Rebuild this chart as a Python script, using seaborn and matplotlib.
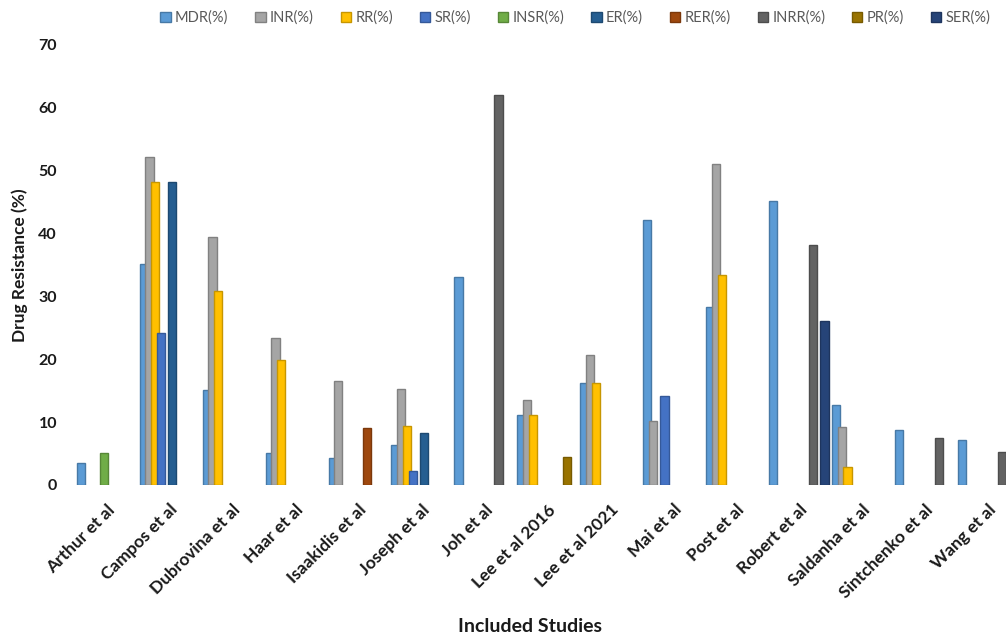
import numpy as np
import pandas as pd
import matplotlib
matplotlib.use("Agg")
import matplotlib.pyplot as plt
import matplotlib.colors as mcolors
from matplotlib.patches import Patch
import seaborn as sns

nan = np.nan

studies = ["Arthur et al", "Campos et al", "Dubrovina et al", "Haar et al",
           "Isaakidis et al", "Joseph et al", "Joh et al", "Lee et al 2016",
           "Lee et al 2021", "Mai et al", "Post et al", "Robert et al",
           "Saldanha et al", "Sintchenko et al", "Wang et al"]

series_names = ["MDR(%)", "INR(%)", "RR(%)", "SR(%)", "INSR(%)",
                "ER(%)", "RER(%)", "INRR(%)", "PR(%)", "SER(%)"]

mdr  = [3.5, 35.2, 15.1, 5.1, 4.3, 6.3, 33.0, 11.2, 16.2, 42.1, 28.3, 45.2, 12.7, 8.7, 7.2]
inr  = [nan, 52.1, 39.5, 23.3, 16.5, 15.2, nan, 13.5, 20.7, 10.2, 51.1, nan, 9.2, nan, nan]
rr   = [nan, 48.1, 30.8, 19.9, nan, 9.3, nan, 11.2, 16.2, nan, 33.4, nan, 2.8, nan, nan]
sr   = [nan, 24.1, nan, nan, nan, 2.3, nan, nan, nan, 14.2, nan, nan, nan, nan, nan]
insr = [5.1, nan, nan, nan, nan, nan, nan, nan, nan, nan, nan, nan, nan, nan, nan]
er   = [nan, 48.1, nan, nan, nan, 8.3, nan, nan, nan, nan, nan, nan, nan, nan, nan]
rer  = [nan, nan, nan, nan, 9.0, nan, nan, nan, nan, nan, nan, nan, nan, nan, nan]
inrr = [nan, nan, nan, nan, nan, nan, 62.0, nan, nan, nan, nan, 38.2, nan, 7.5, 5.2]
pr   = [nan, nan, nan, nan, nan, nan, nan, 4.5, nan, nan, nan, nan, nan, nan, nan]
ser  = [nan, nan, nan, nan, nan, nan, nan, nan, nan, nan, nan, 26.0, nan, nan, nan]

colors = ["#5B9BD5", "#A5A5A5", "#FFC000", "#4472C4", "#70AD47",
          "#255E91", "#9E480E", "#636363", "#997300", "#264478"]

values = [mdr, inr, rr, sr, insr, er, rer, inrr, pr, ser]
rows = []
for name, vals in zip(series_names, values):
    for study, v in zip(studies, vals):
        if not np.isnan(v):
            rows.append({"study": study, "series": name, "value": v})
df = pd.DataFrame(rows)

sns.set_theme(style="white")
plt.rcParams["font.family"] = ["Lato", "DejaVu Sans"]

fig = plt.figure(figsize=(10.06, 6.41), dpi=100)
ax = fig.add_axes([0.0746, 0.2434, 0.9254, 0.6868])

sns.barplot(data=df, x="study", y="value", hue="series",
            order=studies, hue_order=series_names,
            palette=dict(zip(series_names, colors)),
            width=0.906, dodge=True, errorbar=None, saturation=1,
            legend=False, ax=ax)

# widen the dodged bars so neighbouring series overlap slightly,
# and give each bar a darker outline of its own hue
for p in ax.patches:
    w = p.get_width()
    new_w = w * 1.45
    p.set_x(p.get_x() - (new_w - w) / 2)
    p.set_width(new_w)
    fc = np.array(mcolors.to_rgb(p.get_facecolor()))
    p.set_edgecolor(tuple(fc * 0.78))
    p.set_linewidth(1.0)

ax.set_xlim(-0.5, 14.29)
ax.set_ylim(0, 70)
ax.set_yticks(range(0, 71, 10))
for s in ax.spines.values():
    s.set_visible(False)
ax.tick_params(axis="both", length=0)
ax.tick_params(axis="y", pad=13, labelsize=11.5, labelcolor="#1a1a1a")
ax.tick_params(axis="x", pad=12, labelsize=12.5, labelcolor="#1a1a1a")
for lbl in ax.get_yticklabels():
    lbl.set_fontweight("bold")
ax.set_xticks(range(len(studies)))
ax.set_xticklabels(studies, rotation=45, ha="right", rotation_mode="anchor",
                   fontweight="bold")

ax.set_ylabel("Drug Resistance (%)", fontsize=12.5, fontweight="bold",
              color="#1a1a1a")
ax.yaxis.set_label_coords(-0.050, 0.5)
ax.set_xlabel("Included Studies", fontsize=14, fontweight="bold",
              color="#1a1a1a")
ax.xaxis.set_label_coords(0.489, -0.322)
ax.xaxis.label.set_va("center")

handles = [Patch(facecolor=c, edgecolor=tuple(np.array(mcolors.to_rgb(c)) * 0.78),
                 linewidth=1.0) for c in colors]
fig.legend(handles, series_names, loc="center", ncol=10,
           bbox_to_anchor=(0.572, 0.972), frameon=False,
           fontsize=10.5, labelcolor="#595959",
           handlelength=0.7, handleheight=0.7, handletextpad=0.3,
           columnspacing=1.85)

fig.savefig("out.png", dpi=100)
